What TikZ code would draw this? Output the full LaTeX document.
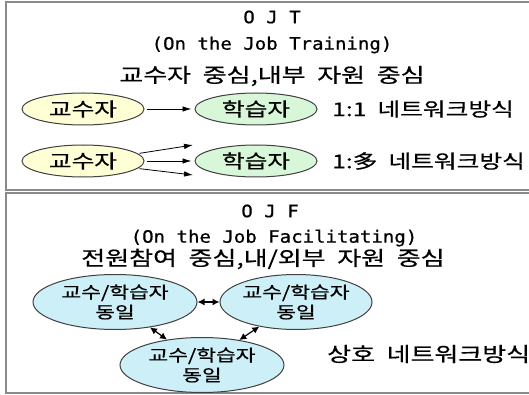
\documentclass[tikz,border=0pt]{standalone}
\usepackage{fontspec}
\usetikzlibrary{shapes.geometric,arrows.meta}
\newfontfamily\kr[FakeStretch=1.3,WordSpace=2,FakeBold=0.6]{Noto Sans CJK KR}
\newfontfamily\monof[FakeStretch=1.12,FakeBold=0.8]{DejaVu Sans Mono}
\definecolor{frameg}{HTML}{8A8A8A}
\definecolor{yelfill}{HTML}{FFFFD6}
\definecolor{grnfill}{HTML}{D8F6D8}
\definecolor{blufill}{HTML}{CDEFF8}
\begin{document}
\begin{tikzpicture}[x=1pt,y=-1pt,
  oval/.style={ellipse, draw=black!75, line width=1pt, inner sep=0pt},
  yel/.style={oval, fill=yelfill, minimum width=122pt, minimum height=32pt, font=\kr\fontsize{19}{20}\selectfont},
  grn/.style={oval, fill=grnfill, minimum width=122pt, minimum height=32pt, font=\kr\fontsize{19}{20}\selectfont},
  blu/.style={oval, fill=blufill, minimum height=55pt, align=center, font=\kr\fontsize{16.5}{20}\selectfont},
  title/.style={inner sep=0pt, font=\monof\fontsize{17}{18}\selectfont},
  krtext/.style={inner sep=0pt, font=\kr\fontsize{20}{22}\selectfont},
  lbltext/.style={inner sep=0pt, anchor=west, font=\kr\fontsize{19}{22}\selectfont},
  arr/.style={line width=0.8pt, -{Latex[length=9pt,width=5.5pt]}},
  darr/.style={line width=1.2pt, {Latex[length=7pt,width=7pt]}-{Latex[length=7pt,width=7pt]}},
  box/.style={draw=frameg, line width=1.6pt}]
\useasboundingbox (0,0) rectangle (529,395);
\fill[white] (0,0) rectangle (529,395);
% frames
\draw[box] (6,2) rectangle (560,190);
\draw[box] (6,193) rectangle (560,393);

% OJT part
\node[title] (t1) at (272,17) {O J T};
\node[title] (t2) at (272,45) {(On the Job Training)};
\node[krtext] (t3) at (272,76) {교수자 중심,내부 자원 중심};

\node[yel] (y1) at (83,109) {교수자};
\node[grn] (g1) at (256,109) {학습자};
\node[lbltext] (l1) at (332,109) {1:1 네트워크방식};
\draw[arr, shorten <=2pt, shorten >=3pt] (y1.east) -- (g1.west);

\node[yel] (y2) at (83,161) {교수자};
\node[grn] (g2) at (256,161) {학습자};
\node[lbltext] (l2) at (332,161) {1:多 네트워크방식};
\coordinate (e2t) at (193,145);
\coordinate (e2b) at (193,175);
\coordinate (s2t) at ([xshift=2pt]y2.8);
\coordinate (s2b) at ([xshift=2pt]y2.-8);
\draw[arr] (s2t) -- (e2t);
\draw[arr, shorten <=2pt, shorten >=3pt] (y2.east) -- (g2.west);
\draw[arr] (s2b) -- (e2b);

% OJF part
\node[title] (f1) at (270,211) {O J F};
\node[title] (f2) at (274,238) {(On the Job Facilitating)};
\node[krtext] (f3) at (263,259) {전원참여 중심,내/외부 자원 중심};

\node[blu, minimum width=164pt] (b1) at (115,302) {교수/학습자\\동일};
\node[blu, minimum width=152pt] (b2) at (296,302) {교수/학습자\\동일};
\node[blu, minimum width=164pt] (b3) at (202,365) {교수/학습자\\동일};
\draw[darr] (b1) -- (b2);
\draw[darr] (b1) -- (b3);
\draw[darr] (b2) -- (b3);

\node[krtext, anchor=west] (l3) at (327,354) {상호 네트워크방식};
\end{tikzpicture}
\end{document}
